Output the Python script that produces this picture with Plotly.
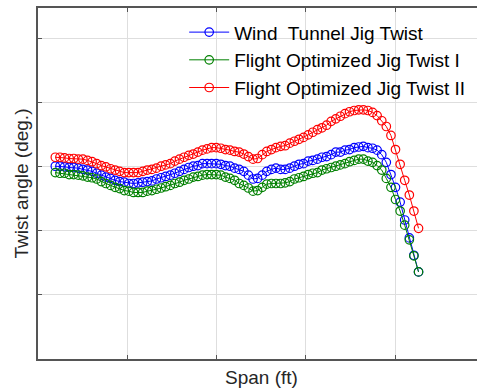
import plotly.graph_objects as go

# Span positions (ft, axis units) of the sampled stations
span = [
    0.194, 0.246, 0.297, 0.349, 0.400, 0.452, 0.503, 0.555, 0.606, 0.658,
    0.709, 0.761, 0.812, 0.864, 0.915, 0.967, 1.018, 1.070, 1.121, 1.173,
    1.224, 1.276, 1.327, 1.379, 1.430, 1.482, 1.533, 1.585, 1.636, 1.688,
    1.739, 1.791, 1.842, 1.894, 1.945, 1.997, 2.048, 2.100, 2.151, 2.203,
    2.254, 2.306, 2.357, 2.409, 2.460, 2.512, 2.563, 2.615, 2.666, 2.718,
    2.769, 2.821, 2.872, 2.924, 2.975, 3.027, 3.078, 3.130, 3.181, 3.233,
    3.284, 3.336, 3.387, 3.439, 3.490, 3.542, 3.593, 3.645, 3.696, 3.748,
    3.799, 3.851, 3.902, 3.954, 4.005, 4.057, 4.108, 4.160, 4.211, 4.263,
]

wind_tunnel = [
    0.01, 0.01, 0.00, -0.01, -0.01, -0.02, -0.04, -0.05, -0.07, -0.10,
    -0.13, -0.16, -0.18, -0.21, -0.23, -0.24, -0.26, -0.26, -0.25, -0.24,
    -0.23, -0.22, -0.19, -0.17, -0.15, -0.13, -0.10, -0.07, -0.04, -0.01,
    0.01, 0.02, 0.05, 0.05, 0.05, 0.05, 0.04, 0.02, 0.01, -0.02,
    -0.04, -0.07, -0.13, -0.19, -0.18, -0.13, -0.07, -0.04, -0.02, -0.04,
    -0.04, -0.02, 0.01, 0.04, 0.05, 0.09, 0.10, 0.12, 0.15, 0.16,
    0.19, 0.23, 0.23, 0.26, 0.27, 0.30, 0.31, 0.32, 0.30, 0.29,
    0.26, 0.19, 0.07, -0.12, -0.32, -0.55, -0.83, -1.11, -1.38, -1.64,
]

flight_opt_1 = [
    -0.09, -0.10, -0.10, -0.12, -0.12, -0.13, -0.14, -0.16, -0.17, -0.19,
    -0.23, -0.26, -0.29, -0.32, -0.34, -0.37, -0.38, -0.40, -0.40, -0.40,
    -0.38, -0.37, -0.35, -0.33, -0.31, -0.29, -0.26, -0.24, -0.21, -0.19,
    -0.16, -0.15, -0.13, -0.12, -0.12, -0.12, -0.13, -0.16, -0.18, -0.21,
    -0.26, -0.29, -0.33, -0.38, -0.37, -0.32, -0.27, -0.26, -0.26, -0.26,
    -0.25, -0.23, -0.19, -0.17, -0.15, -0.12, -0.10, -0.09, -0.05, -0.03,
    -0.01, 0.01, 0.03, 0.05, 0.08, 0.10, 0.12, 0.12, 0.09, 0.07,
    0.02, -0.05, -0.18, -0.32, -0.51, -0.69, -0.91, -1.14, -1.39, -1.64,
]

flight_opt_2 = [
    0.15, 0.15, 0.14, 0.13, 0.13, 0.12, 0.12, 0.10, 0.08, 0.05,
    0.02, 0.00, -0.03, -0.05, -0.07, -0.09, -0.09, -0.09, -0.09, -0.07,
    -0.05, -0.04, -0.02, 0.01, 0.03, 0.05, 0.09, 0.12, 0.15, 0.18,
    0.20, 0.23, 0.26, 0.28, 0.30, 0.30, 0.29, 0.27, 0.26, 0.24,
    0.23, 0.20, 0.16, 0.12, 0.13, 0.19, 0.24, 0.27, 0.30, 0.32,
    0.33, 0.37, 0.40, 0.43, 0.46, 0.50, 0.54, 0.58, 0.61, 0.65,
    0.71, 0.75, 0.79, 0.83, 0.86, 0.88, 0.89, 0.89, 0.88, 0.85,
    0.80, 0.72, 0.63, 0.49, 0.27, 0.04, -0.21, -0.44, -0.69, -0.96,
]

x_ticks = [0, 1, 2, 3, 4]
y_ticks = [-2, -1, 0, 1, 2]

series = [
    ("Wind  Tunnel Jig Twist", wind_tunnel, "#0000ff"),
    ("Flight Optimized Jig Twist I", flight_opt_1, "#008000"),
    ("Flight Optimized Jig Twist II", flight_opt_2, "#ff0000"),
]

FONT = "Liberation Sans, Arial, sans-serif"
AX = "#555555"
GRID = "#dedede"

fig = go.Figure()
for name, vals, col in series:
    fig.add_trace(go.Scatter(
        x=span, y=vals, name=name, mode="lines+markers",
        line=dict(color=col, width=1),
        marker=dict(symbol="circle-open", size=8.5, color=col, line=dict(width=1.2, color=col)),
    ))

fig.update_layout(
    width=477, height=391,
    margin=dict(l=38, r=0, t=8, b=32),
    paper_bgcolor="white", plot_bgcolor="white",
    font=dict(family=FONT, size=19, color="#262626"),
    showlegend=True,
    legend=dict(
        x=0.333, y=0.985, xanchor="left", yanchor="top",
        bgcolor="rgba(0,0,0,0)", borderwidth=0,
        font=dict(family=FONT, size=19, color="#000000"),
        itemwidth=40, tracegroupgap=0,
    ),
    xaxis=dict(
        range=[0, 4.918], tickvals=x_ticks, showticklabels=False,
        showgrid=True, gridcolor=GRID, gridwidth=1, zeroline=False,
        showline=True, linecolor=AX, linewidth=1.5, mirror="ticks",
        ticks="inside", ticklen=4, tickcolor=AX, tickwidth=1,
    ),
    yaxis=dict(
        range=[-3, 2.48], tickvals=y_ticks, showticklabels=False,
        showgrid=True, gridcolor=GRID, gridwidth=1, zeroline=False,
        showline=True, linecolor=AX, linewidth=1.5, mirror=False,
        ticks="inside", ticklen=4, tickcolor=AX, tickwidth=1,
    ),
    annotations=[
        dict(text="Span (ft)", xref="paper", yref="paper", x=0.509, y=0,
             yshift=-18, xanchor="center", yanchor="middle", showarrow=False,
             font=dict(family=FONT, size=19, color="#262626")),
        dict(text="Twist angle (deg.)", xref="paper", yref="paper", x=0, y=0.5,
             xshift=-17, xanchor="center", yanchor="middle", textangle=-90,
             showarrow=False, font=dict(family=FONT, size=19, color="#262626")),
    ],
)

fig.write_html("out.html")
